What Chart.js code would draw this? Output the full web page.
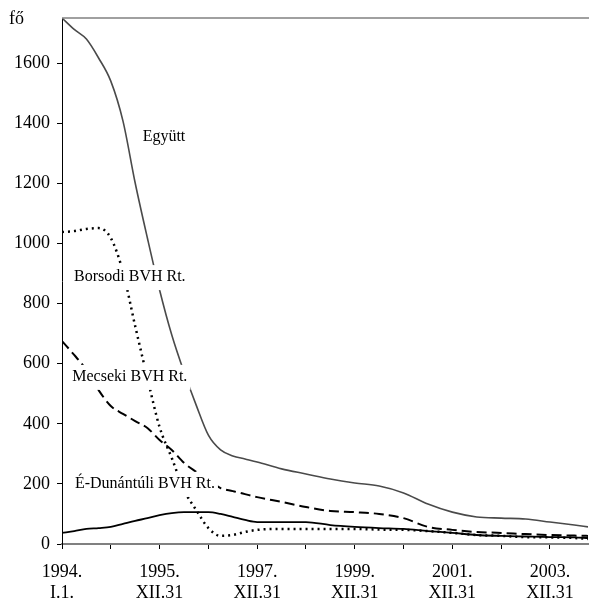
<!DOCTYPE html>
<html>
<head>
<meta charset="utf-8">
<script src="https://cdn.jsdelivr.net/npm/chart.js@4"></script>
<style>
  html, body { margin: 0; padding: 0; background: #fff; }
  canvas { display: block; }
</style>
</head>
<body>
<canvas id="chart" width="589" height="601"></canvas>
<script>
// years since 1994 I.1.
const years = [0, 0.25, 0.5, 0.75, 1, 1.25, 1.5, 1.75, 2, 2.25, 2.5, 2.75, 3, 3.25, 3.5, 3.75, 4,
  4.5, 5, 5.5, 6, 6.5, 7, 7.5, 8, 8.5, 9, 9.5, 10, 10.5, 10.78];

const egyutt = [1750, 1712, 1680, 1617, 1540, 1407, 1201, 1018, 845, 695, 572, 462, 362, 313, 293, 283, 273,
  250, 233, 216, 203, 193, 170, 133, 106, 90, 86, 83, 73, 63, 57];
const borsodi = [1038, 1041, 1048, 1051, 1018, 905, 725, 552, 389, 286, 180, 113, 53, 27, 30, 40, 47,
  50, 50, 50, 50, 48, 47, 43, 37, 30, 27, 23, 22, 20, 17];
const mecseki = [675, 629, 579, 512, 459, 433, 409, 386, 346, 313, 270, 240, 213, 186, 176, 166, 156,
  140, 123, 110, 106, 100, 86, 57, 47, 40, 37, 33, 30, 28, 27];
const eDunantuli = [37, 43, 50, 53, 57, 67, 77, 86, 96, 103, 106, 106, 106, 100, 90, 80, 73,
  73, 73, 63, 57, 53, 50, 43, 37, 30, 27, 25, 23, 22, 20];

const xLabelTop = ["1994.", "1995.", "1997.", "1999.", "2001.", "2003."];
const xLabelBottom = ["I.1.", "XII.31", "XII.31", "XII.31", "XII.31", "XII.31"];

// series labels placed in data coordinates
const seriesLabels = [
  { text: "Együtt", x: 2.09, y: 1354 },
  { text: "Borsodi BVH Rt.", x: 1.39, y: 888 },
  { text: "Mecseki BVH Rt.", x: 1.39, y: 556 },
  { text: "É-Dunántúli BVH Rt.", x: 1.70, y: 200 },
];

const serif = "'Liberation Serif', 'Times New Roman', serif";

function points(values) {
  return values.map((v, i) => ({ x: years[i], y: v }));
}

const decorations = {
  id: "decorations",
  afterDatasetsDraw(chart) {
    const { ctx, chartArea, scales } = chart;
    ctx.save();
    // top frame line
    ctx.strokeStyle = "#808080";
    ctx.lineWidth = 1.5;
    ctx.beginPath();
    ctx.moveTo(chartArea.left, chartArea.top);
    ctx.lineTo(chartArea.right + 1, chartArea.top);
    ctx.stroke();

    ctx.font = "16px " + serif;
    ctx.textAlign = "center";
    ctx.textBaseline = "middle";
    seriesLabels.forEach((l) => {
      const px = scales.x.getPixelForValue(l.x);
      const py = scales.y.getPixelForValue(l.y);
      const w = ctx.measureText(l.text).width;
      ctx.fillStyle = "#fff";
      ctx.fillRect(px - w / 2 - 3, py - 12, w + 6, 25);
      ctx.fillStyle = "#000";
      ctx.fillText(l.text, px, py);
    });

    ctx.font = "18px " + serif;
    ctx.textAlign = "left";
    ctx.fillText("fő", 9, 19);
    ctx.restore();
  },
};

new Chart(document.getElementById("chart").getContext("2d"), {
  type: "line",
  data: {
    datasets: [
      {
        label: "Együtt",
        data: points(egyutt),
        borderColor: "#4a4a4a",
        borderWidth: 1.6,
      },
      {
        label: "Borsodi BVH Rt.",
        data: points(borsodi),
        borderColor: "#000",
        borderWidth: 2.5,
        borderDash: [2, 4],
      },
      {
        label: "Mecseki BVH Rt.",
        data: points(mecseki),
        borderColor: "#000",
        borderWidth: 2,
        borderDash: [10, 5],
      },
      {
        label: "É-Dunántúli BVH Rt.",
        data: points(eDunantuli),
        borderColor: "#000",
        borderWidth: 1.8,
      },
    ],
  },
  options: {
    responsive: false,
    animation: false,
    layout: { padding: { top: 18, right: 1, left: 0, bottom: 0 } },
    elements: {
      point: { radius: 0 },
      line: { cubicInterpolationMode: "monotone", fill: false },
    },
    plugins: {
      legend: { display: false },
      tooltip: { enabled: false },
    },
    scales: {
      x: {
        type: "linear",
        min: 0,
        max: 10.78,
        afterFit: (scale) => { scale.height = 57; },
        border: { color: "#808080", width: 2 },
        grid: { drawOnChartArea: false, drawTicks: true, tickLength: 5, color: "#000" },
        ticks: {
          stepSize: 1,
          includeBounds: false,
          autoSkip: false,
          maxRotation: 0,
          padding: 12,
          color: "#000",
          font: { family: serif, size: 18 },
          callback: (v) => (v % 2 === 0 ? [xLabelTop[v / 2], xLabelBottom[v / 2]] : ""),
        },
      },
      y: {
        min: 0,
        max: 1750,
        afterFit: (scale) => { scale.width = 62; },
        border: { color: "#000", width: 1 },
        grid: { drawOnChartArea: false, drawTicks: true, tickLength: 5, color: "#000" },
        ticks: {
          stepSize: 200,
          includeBounds: false,
          padding: 7,
          color: "#000",
          font: { family: serif, size: 18 },
          callback: (v) => String(v),
        },
      },
    },
  },
  plugins: [decorations],
});
</script>
</body>
</html>
